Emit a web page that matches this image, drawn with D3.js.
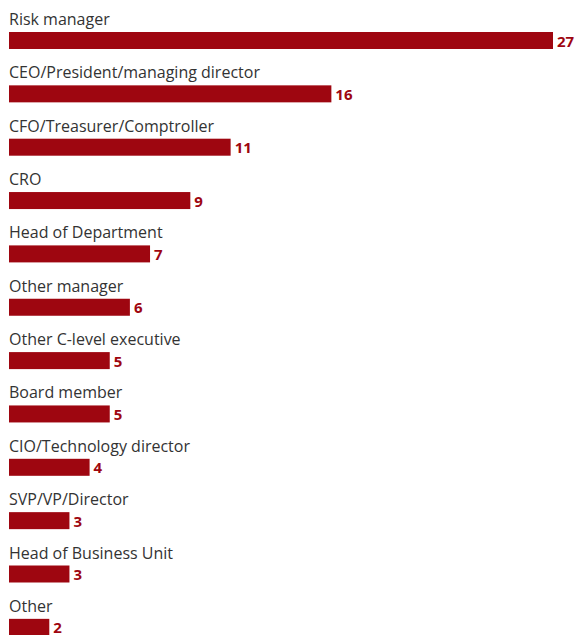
<!DOCTYPE html>
<html>
<head>
<meta charset="utf-8">
<script src="https://cdn.jsdelivr.net/npm/d3@7"></script>
<style>
  html, body { margin: 0; padding: 0; background: #fff; }
  svg { display: block; }
</style>
</head>
<body>
<svg id="chart" width="576" height="635"></svg>
<script>
const categories = [
  "Risk manager",
  "CEO/President/managing director",
  "CFO/Treasurer/Comptroller",
  "CRO",
  "Head of Department",
  "Other manager",
  "Other C-level executive",
  "Board member",
  "CIO/Technology director",
  "SVP/VP/Director",
  "Head of Business Unit",
  "Other"
];
const values = [27, 16, 11, 9, 7, 6, 5, 5, 4, 3, 3, 2];

const svg = d3.select("#chart");
const left = 9, right = 553;
const rowTop = 32, rowStep = 53.35, barH = 17;

const x = d3.scaleLinear().domain([0, 27]).range([left, right]);
const y = d3.scaleBand().domain(categories)
  .range([rowTop, rowTop + rowStep * categories.length])
  .paddingInner(0).paddingOuter(0);

const rows = svg.selectAll("g.row").data(categories).join("g")
  .attr("class", "row")
  .attr("transform", d => `translate(0,${y(d)})`);

// category label above each bar
rows.append("text")
  .attr("x", left)
  .attr("y", -7)
  .attr("font-family", "'Open Sans', sans-serif")
  .attr("font-size", 16)
  .attr("fill", "#333")
  .text(d => d);

rows.append("rect")
  .attr("x", x(0))
  .attr("y", 0)
  .attr("width", (d, i) => x(values[i]) - x(0))
  .attr("height", barH)
  .attr("fill", "#9e0610");

// value label at the end of each bar
rows.append("text")
  .attr("x", (d, i) => x(values[i]) + 4)
  .attr("y", 14.5)
  .attr("font-family", "'Open Sans', sans-serif")
  .attr("font-size", 15)
  .attr("font-weight", "bold")
  .attr("fill", "#9e0610")
  .text((d, i) => values[i]);
</script>
</body>
</html>
